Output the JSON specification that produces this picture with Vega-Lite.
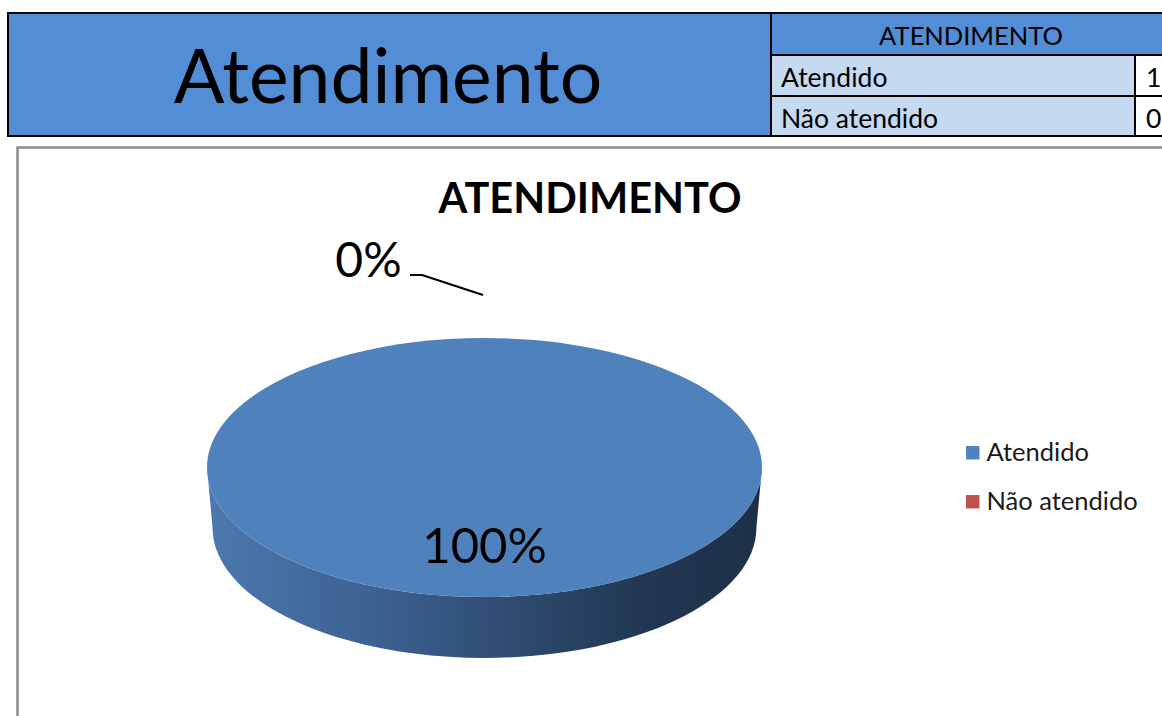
{
  "$schema": "https://vega.github.io/schema/vega-lite/v6.json",
  "width": 1162,
  "height": 716,
  "padding": 0,
  "autosize": "none",
  "background": "white",
  "config": {"view": {"stroke": null}, "font": "Lato", "axis": {"disable": true}},
  "data": {
    "values": [
      {"Status": "Atendido", "Quantidade": 1, "Percentual": "100%"},
      {"Status": "Não atendido", "Quantidade": 0, "Percentual": "0%"}
    ]
  },
  "layer": [
    {
      "data": {"values": [{}]},
      "mark": {"type": "rect", "fill": "#538dd5", "stroke": "#000000", "strokeWidth": 2, "clip": true},
      "encoding": {
        "x": {"datum": 8, "type": "quantitative", "scale": {"domain": [0, 1162], "nice": false, "zero": false}, "axis": null},
        "x2": {"datum": 1200},
        "y": {"datum": 13, "type": "quantitative", "scale": {"domain": [0, 716], "reverse": true, "nice": false, "zero": false}, "axis": null},
        "y2": {"datum": 136}
      }
    },
    {
      "data": {"values": [{}]},
      "mark": {"type": "text", "text": "Atendimento", "font": "Lato", "fontSize": 75, "align": "center", "baseline": "alphabetic", "color": "#000000"},
      "encoding": {"x": {"datum": 388}, "y": {"datum": 103}}
    },
    {
      "data": {"values": [{}]},
      "mark": {"type": "rect", "fill": "#538dd5", "stroke": "#000000", "strokeWidth": 2, "clip": true},
      "encoding": {"x": {"datum": 771}, "x2": {"datum": 1200}, "y": {"datum": 13}, "y2": {"datum": 55}}
    },
    {
      "data": {"values": [{}]},
      "mark": {"type": "text", "text": "ATENDIMENTO", "font": "Lato", "fontSize": 25.5, "align": "center", "baseline": "alphabetic", "color": "#000000"},
      "encoding": {"x": {"datum": 971}, "y": {"datum": 45}}
    },
    {
      "transform": [{"filter": "datum.Status === 'Atendido'"}],
      "layer": [
        {
          "mark": {"type": "rect", "fill": "#c5d9f1", "stroke": "#000000", "strokeWidth": 2},
          "encoding": {"x": {"datum": 771}, "x2": {"datum": 1135}, "y": {"datum": 55}, "y2": {"datum": 96}}
        },
        {
          "mark": {"type": "rect", "fill": "#ffffff", "stroke": "#000000", "strokeWidth": 2, "clip": true},
          "encoding": {"x": {"datum": 1135}, "x2": {"datum": 1200}, "y": {"datum": 55}, "y2": {"datum": 96}}
        },
        {
          "mark": {"type": "text", "font": "Lato", "fontSize": 26.5, "align": "left", "baseline": "alphabetic", "color": "#000000"},
          "encoding": {"x": {"datum": 781}, "y": {"datum": 87}, "text": {"field": "Status"}}
        },
        {
          "mark": {"type": "text", "font": "Lato", "fontSize": 26.5, "align": "left", "baseline": "alphabetic", "color": "#000000"},
          "encoding": {"x": {"datum": 1146}, "y": {"datum": 87}, "text": {"field": "Quantidade"}}
        }
      ]
    },
    {
      "transform": [{"filter": "datum.Status === 'Não atendido'"}],
      "layer": [
        {
          "mark": {"type": "rect", "fill": "#c5d9f1", "stroke": "#000000", "strokeWidth": 2},
          "encoding": {"x": {"datum": 771}, "x2": {"datum": 1135}, "y": {"datum": 96}, "y2": {"datum": 136}}
        },
        {
          "mark": {"type": "rect", "fill": "#ffffff", "stroke": "#000000", "strokeWidth": 2, "clip": true},
          "encoding": {"x": {"datum": 1135}, "x2": {"datum": 1200}, "y": {"datum": 96}, "y2": {"datum": 136}}
        },
        {
          "mark": {"type": "text", "font": "Lato", "fontSize": 26.5, "align": "left", "baseline": "alphabetic", "color": "#000000"},
          "encoding": {"x": {"datum": 781}, "y": {"datum": 128}, "text": {"field": "Status"}}
        },
        {
          "mark": {"type": "text", "font": "Lato", "fontSize": 26.5, "align": "left", "baseline": "alphabetic", "color": "#000000"},
          "encoding": {"x": {"datum": 1146}, "y": {"datum": 128}, "text": {"field": "Quantidade"}}
        }
      ]
    },
    {
      "data": {"values": [{}]},
      "mark": {"type": "rect", "fill": "#ffffff", "stroke": "#8c8c8c", "strokeWidth": 2.5, "clip": true},
      "encoding": {"x": {"datum": 17.5}, "x2": {"datum": 1200}, "y": {"datum": 147.5}, "y2": {"datum": 760}}
    },
    {
      "data": {"values": [{}]},
      "mark": {"type": "text", "text": "ATENDIMENTO", "font": "Lato", "fontWeight": "bold", "fontSize": 41.5, "align": "center", "baseline": "alphabetic", "color": "#000000"},
      "encoding": {"x": {"datum": 590}, "y": {"datum": 213}}
    },
    {
      "transform": [{"filter": "datum.Quantidade > 0"}],
      "mark": {
        "type": "point",
        "shape": "M -1 0 L -0.98 0.2162 C -0.98 0.4758 -0.5413 0.6862 0 0.6862 C 0.5413 0.6862 0.98 0.4758 0.98 0.2162 L 1 0 C 1 0.2577 0.5523 0.4667 0 0.4667 C -0.5523 0.4667 -1 0.2577 -1 0 Z",
        "filled": true,
        "size": 308025,
        "opacity": 1,
        "strokeWidth": 0,
        "fill": {
          "gradient": "linear",
          "x1": 0, "y1": 0, "x2": 1, "y2": 0,
          "stops": [
            {"offset": 0, "color": "#4c79b0"},
            {"offset": 0.3, "color": "#3d6192"},
            {"offset": 0.55, "color": "#2e4b70"},
            {"offset": 0.8, "color": "#213651"},
            {"offset": 1, "color": "#1e3049"}
          ]
        }
      },
      "encoding": {"x": {"datum": 484.5}, "y": {"datum": 467.5}}
    },
    {
      "transform": [{"filter": "datum.Quantidade > 0"}],
      "mark": {
        "type": "point",
        "shape": "M -1 0 C -1 -0.2577 -0.5523 -0.4667 0 -0.4667 C 0.5523 -0.4667 1 -0.2577 1 0 C 1 0.2577 0.5523 0.4667 0 0.4667 C -0.5523 0.4667 -1 0.2577 -1 0 Z",
        "filled": true,
        "size": 308025,
        "opacity": 1,
        "strokeWidth": 0
      },
      "encoding": {
        "x": {"datum": 484.5},
        "y": {"datum": 467.5},
        "color": {
          "field": "Status",
          "type": "nominal",
          "scale": {"domain": ["Atendido", "Não atendido"], "range": ["#4f81bd", "#c0504d"]},
          "legend": {
            "orient": "none",
            "direction": "vertical",
            "legendX": 960,
            "legendY": 440,
            "title": null,
            "padding": 0,
            "symbolType": "square",
            "symbolSize": 180,
            "symbolStrokeWidth": 0,
            "symbolOpacity": 1,
            "labelFont": "Lato",
            "labelFontSize": 25.5,
            "labelColor": "#1a1a1a",
            "labelOffset": 1,
            "rowPadding": 22
          }
        }
      }
    },
    {
      "transform": [{"filter": "datum.Quantidade > 0"}],
      "mark": {"type": "text", "font": "Lato", "fontSize": 49, "align": "center", "baseline": "alphabetic", "color": "#000000"},
      "encoding": {"x": {"datum": 484.5}, "y": {"datum": 563}, "text": {"field": "Percentual"}}
    },
    {
      "transform": [{"filter": "datum.Quantidade === 0"}],
      "mark": {"type": "text", "font": "Lato", "fontSize": 48, "align": "center", "baseline": "alphabetic", "color": "#000000"},
      "encoding": {"x": {"datum": 368.5}, "y": {"datum": 277}, "text": {"field": "Percentual"}}
    },
    {
      "transform": [{"filter": "datum.Quantidade === 0"}],
      "mark": {"type": "rule", "color": "#000000", "strokeWidth": 2},
      "encoding": {"x": {"datum": 410}, "x2": {"datum": 422}, "y": {"datum": 275}, "y2": {"datum": 275}}
    },
    {
      "transform": [{"filter": "datum.Quantidade === 0"}],
      "mark": {"type": "rule", "color": "#000000", "strokeWidth": 2},
      "encoding": {"x": {"datum": 422}, "x2": {"datum": 483}, "y": {"datum": 275}, "y2": {"datum": 295}}
    }
  ]
}
